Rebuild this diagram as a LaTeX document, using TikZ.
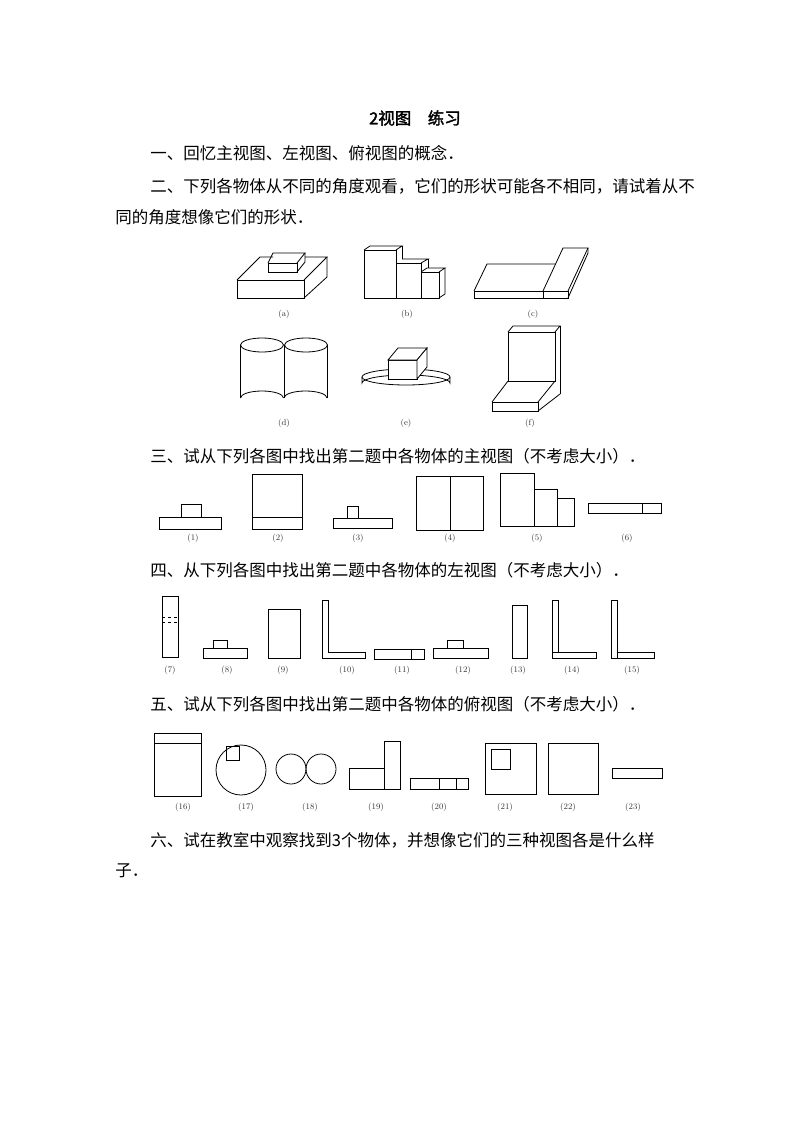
\documentclass[tikz,border=0pt]{standalone}
\usepackage{fontspec}
\newfontfamily\cjk{Noto Sans CJK SC}
\newfontfamily\cjkb[FakeBold=2]{Noto Sans CJK SC}
\begin{document}
\begin{tikzpicture}[x=1pt,y=-1pt,line width=0.8pt,line join=miter,
  txt/.style={anchor=west,inner sep=0pt,font=\cjk\fontsize{16.5}{17}\selectfont},
  lab/.style={inner sep=0pt,font=\fontsize{8.5}{9}\selectfont,text=black!80}]
\useasboundingbox[fill=white] (0,0) rectangle (794,1123);
\node[inner sep=0pt,font=\cjkb\fontsize{16.5}{17}\selectfont] (title) at (415,118) {2视图\quad 练习};
\node[txt] (l1) at (150,153) {一、回忆主视图、左视图、俯视图的概念．};
\node[txt] (l2) at (150,186) {二、下列各物体从不同的角度观看，它们的形状可能各不相同，请试着从不};
\node[txt] (l3) at (115,217) {同的角度想像它们的形状．};
\node[txt] (l4) at (150,456) {三、试从下列各图中找出第二题中各物体的主视图（不考虑大小）．};
\node[txt] (l5) at (150,570) {四、从下列各图中找出第二题中各物体的左视图（不考虑大小）．};
\node[txt] (l6) at (150,704) {五、试从下列各图中找出第二题中各物体的俯视图（不考虑大小）．};
\node[txt] (l7) at (150,840) {六、试在教室中观察找到3个物体，并想像它们的三种视图各是什么样};
\node[txt] (l8) at (115,871) {子．};
% (a)
\draw (237,280) rectangle (304,298);
\draw (237,280) -- (260,257) -- (273,257);
\draw (305,257) -- (327,257) -- (304,280);
\draw (327,257) -- (327,277) -- (304,298);
\draw (268,263) rectangle (297,272);
\draw (268,263) -- (273,253) -- (305,253) -- (297,263);
\draw (305,253) -- (305,262) -- (297,272);
\node[lab] (la) at (284,314) {(a)};
% (b)
\draw (364,250) rectangle (396,298);
\draw (364,250) -- (370,246) -- (402,246) -- (396,250);
\draw (402,246) -- (402,259);
\draw (396,263) rectangle (421,298);
\draw (402,259) -- (428,259) -- (421,263);
\draw (428,259) -- (428,268);
\draw (421,272) rectangle (439,298);
\draw (421,272) -- (427,268) -- (445,268) -- (439,272);
\draw (445,268) -- (445,294) -- (439,298);
\node[lab] (lb) at (407,314) {(b)};
% (c)
\draw (474,291) rectangle (568,298);
\draw (543,291) -- (543,298);
\draw (474,291) -- (487,264) -- (555,264);
\draw (543,291) -- (563,248) -- (588,248) -- (568,291);
\draw (588,248) -- (588,253) -- (568,298);
\node[lab] (lc) at (533,314) {(c)};
% (d)
\draw (262,345) ellipse (21.5 and 7);
\draw (306,345) ellipse (21.5 and 7);
\draw (240.5,345) -- (240.5,398) (284,345) -- (284,398) (327.5,345) -- (327.5,398);
\draw (240.5,398) arc[start angle=180,end angle=360,x radius=21.5,y radius=7];
\draw (284,398) arc[start angle=180,end angle=360,x radius=21.5,y radius=7];
\node[lab] (ld) at (284,423) {(d)};
% (e)
\draw (362,377) -- (362,383) arc[start angle=180,end angle=360,x radius=44,y radius=8] -- (450,377);
\draw (406,377) ellipse (44 and 8);
\draw[fill=white] (388,360) rectangle (417,379);
\draw[fill=white] (388,360) -- (398,348) -- (427,348) -- (417,360) -- cycle;
\draw[fill=white] (417,360) -- (427,348) -- (427,367) -- (417,379) -- cycle;
\node[lab] (le) at (406,423) {(e)};
% (f)
\draw (508,332) rectangle (555,381);
\draw (508,332) -- (513,326) -- (560,326) -- (555,332);
\draw (560,326) -- (560,394);
\draw (492,402) rectangle (538,411);
\draw (492,402) -- (508,381) (538,402) -- (555,381);
\draw (538,411) -- (560,394);
\node[lab] (lf) at (530,423) {(f)};
% row 3
\draw (159,517) rectangle (221,529); \draw (181,517) rectangle (201,504);
\node[lab] (n1) at (193,538) {(1)};
\draw (252,474) rectangle (302,529); \draw (252,517) -- (302,517);
\node[lab] (n2) at (278,538) {(2)};
\draw (333,518) rectangle (392,528); \draw (347,518) rectangle (358,506);
\node[lab] (n3) at (358,538) {(3)};
\draw (416,476) rectangle (483,530); \draw (450,476) -- (450,530);
\node[lab] (n4) at (450,538) {(4)};
\draw (500,473) rectangle (534,526); \draw (534,526) -- (534,489) -- (557,489) -- (557,526);
\draw (557,498) -- (574,498) -- (574,526) -- (534,526);
\node[lab] (n5) at (537,538) {(5)};
\draw (588,503) rectangle (661,513); \draw (642,503) -- (642,513);
\node[lab] (n6) at (627,538) {(6)};
% row 4
\draw (162,596) rectangle (178,657); \draw[dashed] (162,617) -- (178,617) (162,622) -- (178,622);
\node[lab] (n7) at (170,670) {(7)};
\draw (203,648) rectangle (247,658); \draw (213,648) rectangle (227,640);
\node[lab] (n8) at (227,670) {(8)};
\draw (268,609) rectangle (300,658);
\node[lab] (n9) at (283,670) {(9)};
\draw (322,600) -- (328,600) -- (328,652) -- (365,652) -- (365,658) -- (322,658) -- cycle;
\node[lab] (n10) at (347,670) {(10)};
\draw (374,649) rectangle (424,659); \draw (411,649) -- (411,659);
\node[lab] (n11) at (402,670) {(11)};
\draw (433,648) rectangle (488,658); \draw (447,648) rectangle (463,640);
\node[lab] (n12) at (463,670) {(12)};
\draw (512,605) rectangle (527,658);
\node[lab] (n13) at (518,670) {(13)};
\draw (552,600) -- (558,600) -- (558,652) -- (596,652) -- (596,658) -- (552,658) -- cycle;
\draw (552,652) -- (558,652);
\node[lab] (n14) at (572,670) {(14)};
\draw (611,600) -- (617,600) -- (617,652) -- (654,652) -- (654,658) -- (611,658) -- cycle;
\draw (617,652) -- (617,658);
\node[lab] (n15) at (632,670) {(15)};
% row 5
\draw (154,733) rectangle (201,796); \draw (154,743) -- (201,743);
\node[lab] (n16) at (183,807) {(16)};
\draw (241,770) circle (25); \draw (226,746) rectangle (239,760);
\node[lab] (n17) at (246,807) {(17)};
\draw (291,769) circle (15); \draw (321,769) circle (15);
\node[lab] (n18) at (310,807) {(18)};
\draw (349,768) rectangle (384,789); \draw (384,741) rectangle (400,789);
\node[lab] (n19) at (376,807) {(19)};
\draw (410,778) rectangle (468,789); \draw (439,778) -- (439,789) (456,778) -- (456,789);
\node[lab] (n20) at (439,807) {(20)};
\draw (485,743) rectangle (536,794); \draw (491,749) rectangle (510,769);
\node[lab] (n21) at (505,807) {(21)};
\draw (548,743) rectangle (598,794);
\node[lab] (n22) at (568,807) {(22)};
\draw (612,768) rectangle (662,778);
\node[lab] (n23) at (633,807) {(23)};
\end{tikzpicture}
\end{document}
